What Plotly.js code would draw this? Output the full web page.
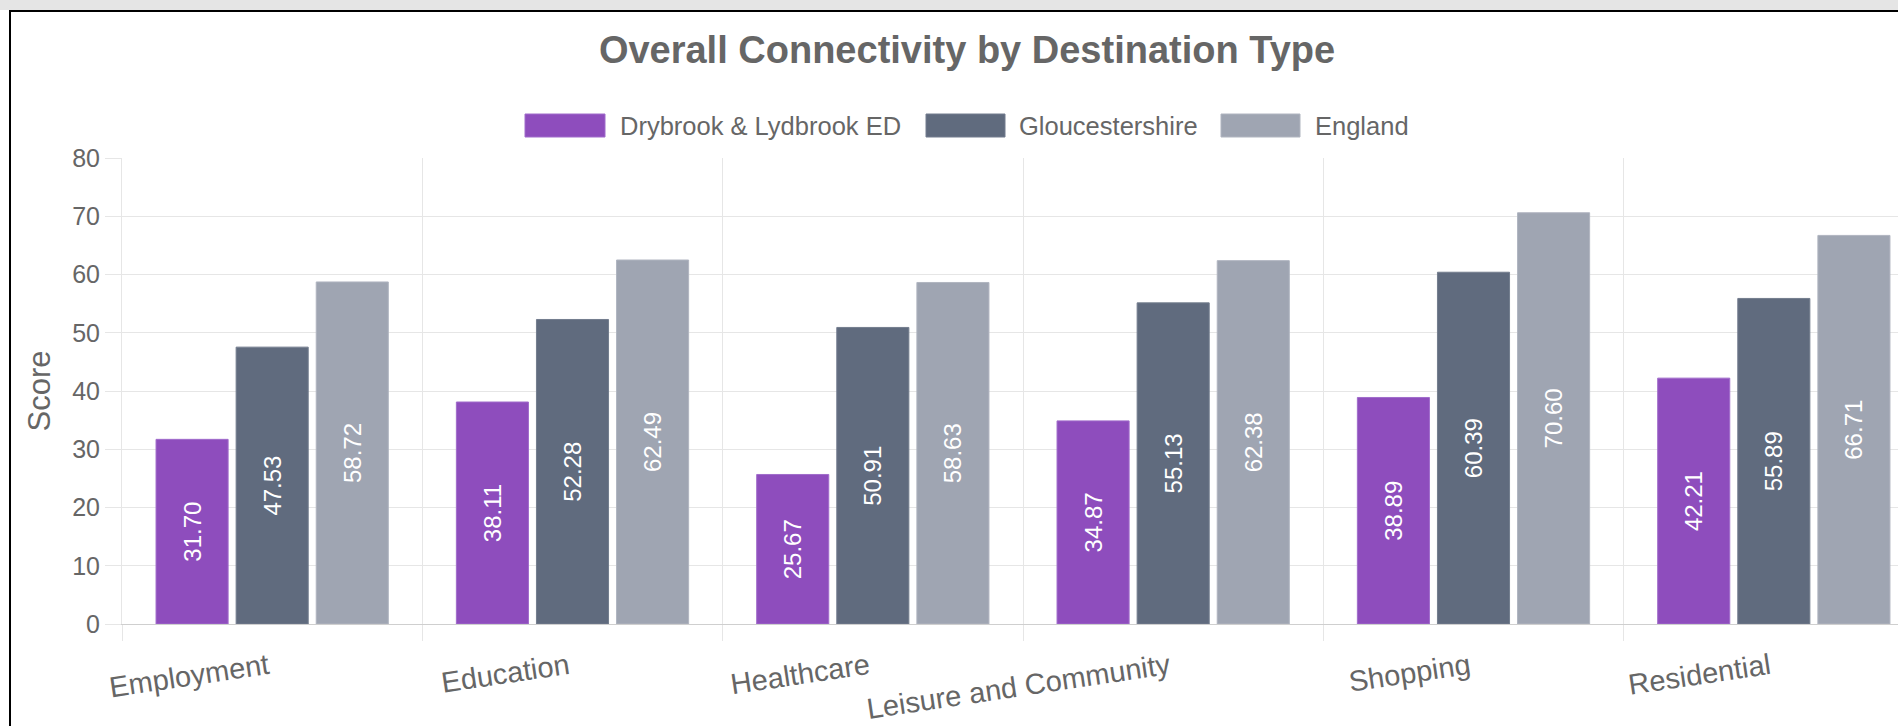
<!DOCTYPE html>
<html>
<head>
<meta charset="utf-8">
<script src="https://cdn.plot.ly/plotly-3.0.1.min.js"></script>
<style>
  html, body { margin: 0; padding: 0; width: 1898px; height: 726px; overflow: hidden; background: #fff; }
  #chart { position: absolute; left: 0; top: 0; width: 1930px; height: 726px; }
  #topbar { position: absolute; left: 0; top: 0; width: 1898px; height: 10px; background: #e5e5e5; z-index: 10; }
  #frame { position: absolute; left: 9px; top: 10px; width: 1950px; height: 800px; border-left: 2px solid #000; border-top: 2px solid #000; z-index: 10; pointer-events: none; }
</style>
</head>
<body>
<div id="chart"></div>
<div id="topbar"></div>
<div id="frame"></div>
<script>
// ---- data ----
const categories = ['Employment', 'Education', 'Healthcare', 'Leisure and Community', 'Shopping', 'Residential'];
const seriesNames = ['Drybrook & Lydbrook ED', 'Gloucestershire', 'England'];
const drybrookValues = [31.70, 38.11, 25.67, 34.87, 38.89, 42.21];
const gloucestershireValues = [47.53, 52.28, 50.91, 55.13, 60.39, 55.89];
const englandValues = [58.72, 62.49, 58.63, 62.38, 70.60, 66.71];
const yTickValues = [0, 10, 20, 30, 40, 50, 60, 70, 80];

// ---- styles ----
const FONT = '"Liberation Sans", Arial, Helvetica, sans-serif';
const TXT = '#666666';
const fills = ['#8e4dbd', '#606b7e', '#9fa5b2'];
const edges = ['#a06ccb', '#737d8e', '#b0b5c0'];
const W = 1930, H = 726;
const M = { l: 122, r: W - 1924, t: 158, b: H - 624 };
const PW = W - M.l - M.r, PH = H - M.t - M.b;
const px = x => (x - M.l) / PW;
const py = y => (H - M.b - y) / PH;

const allValues = [drybrookValues, gloucestershireValues, englandValues];
const traces = allValues.map((vals, i) => ({
  type: 'bar',
  name: seriesNames[i],
  x: categories,
  y: vals,
  marker: { color: fills[i], line: { color: edges[i], width: 1 } },
  texttemplate: '%{y:.2f}',
  textposition: 'inside',
  insidetextanchor: 'middle',
  textangle: -90,
  insidetextfont: { family: FONT, size: 24, color: '#ffffff' },
  hoverinfo: 'x+y+name',
  showlegend: false
}));

// custom legend (Chart.js style wide boxes)
const legendItems = [
  { box: [525, 605], textX: 618 },
  { box: [926, 1005], textX: 1017 },
  { box: [1221, 1300], textX: 1313 }
];
const shapes = legendItems.map((it, i) => ({
  type: 'rect', xref: 'paper', yref: 'paper',
  x0: px(it.box[0]), x1: px(it.box[1]), y0: py(137), y1: py(114),
  fillcolor: fills[i], line: { color: edges[i], width: 1 }
}));
const annotations = legendItems.map((it, i) => ({
  xref: 'paper', yref: 'paper', x: px(it.textX), y: py(125.5),
  xanchor: 'left', yanchor: 'middle', showarrow: false,
  text: seriesNames[i], font: { family: FONT, size: 25.5, color: TXT }
}));

const layout = {
  width: W, height: H,
  margin: M,
  paper_bgcolor: '#ffffff', plot_bgcolor: '#ffffff',
  font: { family: FONT, color: TXT },
  title: {
    text: '<b>Overall Connectivity by Destination Type</b>',
    font: { family: FONT, size: 38, color: TXT },
    xref: 'container', x: 967 / W, xanchor: 'center',
    yref: 'container', y: 1 - 50 / H, yanchor: 'middle'
  },
  barmode: 'group',
  bargap: 0.2,
  bargroupgap: 0.1,
  xaxis: {
    type: 'category',
    range: [-0.5, categories.length - 0.5],
    tickson: 'boundaries',
    ticks: 'outside', ticklen: 16, tickcolor: '#e6e6e6', tickwidth: 1,
    showgrid: true, gridcolor: '#e6e6e6', gridwidth: 1,
    tickangle: -8.5,
    ticklabelstandoff: 14,
    ticklabelshift: -4,
    tickfont: { family: FONT, size: 29, color: TXT },
    showline: true, linecolor: '#cfcfcf', linewidth: 1,
    zeroline: false, fixedrange: true
  },
  yaxis: {
    range: [0, 80],
    tickmode: 'array', tickvals: yTickValues,
    ticks: 'outside', ticklen: 16, tickcolor: '#e6e6e6', tickwidth: 1,
    showgrid: true, gridcolor: '#e6e6e6', gridwidth: 1,
    tickfont: { family: FONT, size: 25, color: TXT },
    showline: true, linecolor: '#e6e6e6', linewidth: 1,
    zeroline: false, fixedrange: true,
    title: { text: 'Score', font: { family: FONT, size: 31, color: TXT }, standoff: 12 }
  },
  shapes: shapes,
  annotations: annotations
};

Plotly.newPlot('chart', traces, layout, { displayModeBar: false, staticPlot: false });
</script>
</body>
</html>
